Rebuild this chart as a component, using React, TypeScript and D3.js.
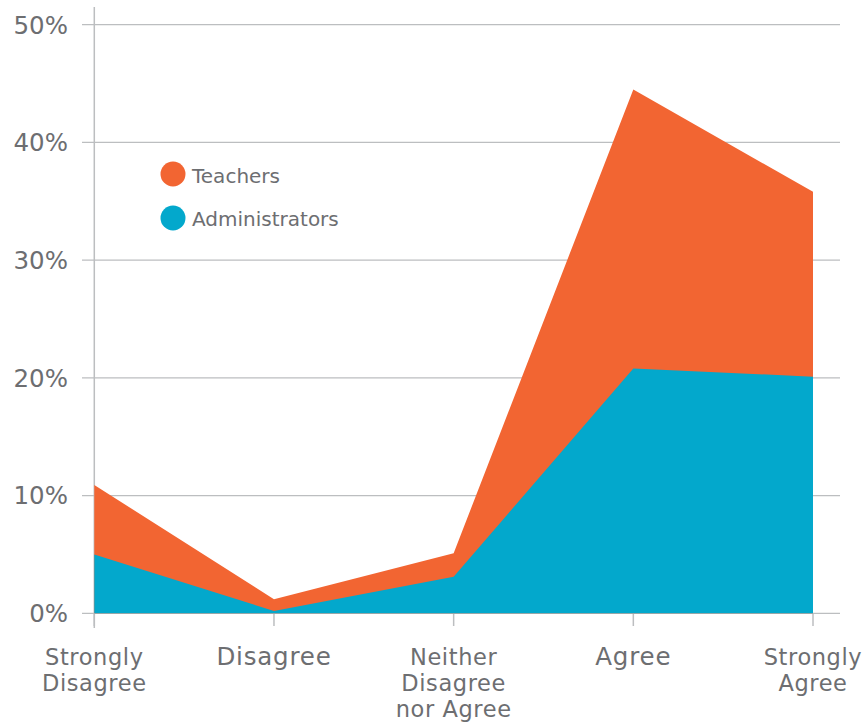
import React from "react";
import * as d3 from "d3";

const categories: string[][] = [
  ["Strongly", "Disagree"],
  ["Disagree"],
  ["Neither", "Disagree", "nor Agree"],
  ["Agree"],
  ["Strongly", "Agree"],
];
const teachers = [10.9, 1.2, 5.1, 44.5, 35.8];
const administrators = [5.0, 0.2, 3.1, 20.8, 20.1];
const yTicks = [0, 10, 20, 30, 40, 50];
const seriesNames = ["Teachers", "Administrators"];
const colors = ["#F26532", "#03A8CC"];

const W = 865;
const H = 723;
const FONT = "'DejaVu Sans', sans-serif";
const TEXT = "#6d6e71";
const GRID = "#bcbec0";

export default function App() {
  const x = d3.scalePoint<number>().domain(d3.range(categories.length)).range([94.3, 813]);
  const y = d3.scaleLinear().domain([0, 50]).range([613.3, 24.7]);
  const area = d3
    .area<number>()
    .x((_, i) => x(i) as number)
    .y0(y(0))
    .y1((d) => y(d));

  return (
    <svg width={W} height={H} style={{ position: "absolute", left: 0, top: 0 }}>
      {yTicks.map((t) => (
        <g key={t}>
          <line x1={82} x2={840} y1={y(t)} y2={y(t)} stroke={GRID} strokeWidth={1.3} />
          <text
            x={68}
            y={y(t)}
            dy="0.36em"
            textAnchor="end"
            fontFamily={FONT}
            fontSize={24.5}
            fill={TEXT}
          >
            {t}%
          </text>
        </g>
      ))}
      <line x1={94.3} x2={94.3} y1={7} y2={628} stroke={GRID} strokeWidth={1.5} />
      {categories.map((_, i) => (
        <line key={i} x1={x(i)} x2={x(i)} y1={613} y2={626} stroke={GRID} strokeWidth={1.5} />
      ))}
      <path d={area(teachers) || ""} fill={colors[0]} />
      <path d={area(administrators) || ""} fill={colors[1]} />
      {categories.map((lines, i) => (
        <text
          key={i}
          x={x(i)}
          textAnchor="middle"
          fontFamily={FONT}
          fontSize={lines.length === 1 ? 24.5 : 22.5}
          letterSpacing={lines.length === 1 ? 0.8 : 0.6}
          fill={TEXT}
        >
          {lines.map((l, j) => (
            <tspan key={j} x={x(i)} y={665 + j * 26}>
              {l}
            </tspan>
          ))}
        </text>
      ))}
      {seriesNames.map((s, i) => (
        <g key={s}>
          <circle cx={173} cy={174 + i * 44} r={12.5} fill={colors[i]} />
          <text x={192} y={183 + i * 43} fontFamily={FONT} fontSize={20} fill={TEXT}>
            {s}
          </text>
        </g>
      ))}
    </svg>
  );
}
